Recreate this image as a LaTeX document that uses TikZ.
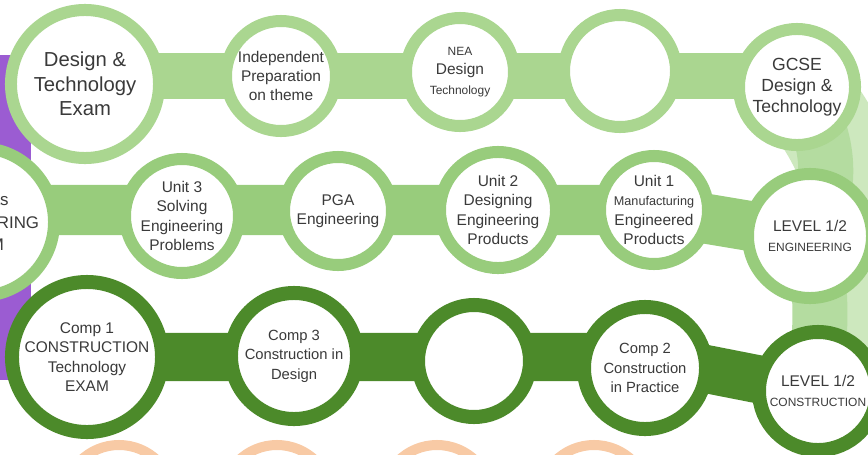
\documentclass[tikz,border=0pt]{standalone}
\usepackage{fontspec}
\setmainfont{Liberation Sans}
\usepackage{xcolor}
\usepackage{tikz}
\usetikzlibrary{backgrounds}

\definecolor{paleGreen}{RGB}{170,214,144}
\definecolor{midGreen}{RGB}{152,204,124}
\definecolor{darkGreen}{RGB}{76,138,42}
\definecolor{bendGreen}{RGB}{180,220,160}
\definecolor{mistGreen}{RGB}{205,232,190}
\definecolor{peach}{RGB}{248,202,165}
\definecolor{sidebar}{RGB}{155,92,210}
\definecolor{inkGray}{RGB}{58,58,58}

\newcommand{\smalltag}[1]{{\fontsize{8.5}{10.5}\selectfont #1}}

\begin{document}
\begin{tikzpicture}[
    x=0.025cm, y=-0.025cm,
    ring/.style={circle, fill=white, inner sep=0pt, align=center, text=inkGray, font=\fontsize{11}{13.8}\selectfont},
    lightring/.style={ring, draw=paleGreen, line width=0.3cm},
    midring/.style={ring, draw=midGreen, line width=0.3cm},
    darkring/.style={ring, draw=darkGreen, line width=0.35cm},
    peachring/.style={ring, draw=peach, line width=0.25cm, minimum size=2.75cm},
    bar/.style={line width=#1, line cap=butt}
]
    \clip (0,0) rectangle (868,454);

    % row 1: design & technology
    \node[lightring, minimum size=3.7cm, font=\fontsize{14.4}{17.5}\selectfont] (dtexam) at (85,84) {Design \&\\Technology\\Exam};
    \node[lightring, minimum size=2.75cm] (prep) at (281,76) {Independent\\Preparation\\on theme};
    \node[lightring, minimum size=2.7cm] (nea) at (460,72) {\smalltag{NEA}\\Design\\\smalltag{Technology}};
    \node[lightring, minimum size=2.8cm] (blankA) at (620,71) {};
    \node[lightring, minimum size=2.9cm, font=\fontsize{12.5}{15}\selectfont] (gcse) at (797,87) {GCSE\\Design \&\\Technology};

    % row 2: engineering
    \node[midring, minimum size=3.7cm, font=\fontsize{12}{16}\selectfont] (engexam) at (-20,222) {Eduqas\\ENGINEERING\\EXAM};
    \node[midring, minimum size=2.85cm] (unit3) at (182,216) {Unit 3\\Solving\\Engineering\\Problems};
    \node[midring, minimum size=2.7cm] (pga) at (338,211) {PGA\\Engineering};
    \node[midring, minimum size=2.9cm] (unit2) at (498,210) {Unit 2\\Designing\\Engineering\\Products};
    \node[midring, minimum size=2.7cm] (unit1) at (654,210) {Unit 1\\{\fontsize{9}{11}\selectfont Manufacturing}\\Engineered\\Products};
    \node[midring, minimum size=3.1cm] (leveleng) at (810,236) {LEVEL 1/2\\\smalltag{ENGINEERING}};

    % row 3: construction
    \node[darkring, minimum size=3.75cm] (comp1) at (87,357) {Comp 1\\CONSTRUCTION\\Technology\\EXAM};
    \node[darkring, minimum size=3.15cm, font=\fontsize{10.5}{13.8}\selectfont] (comp3) at (294,356) {Comp 3\\Construction in\\Design};
    \node[darkring, minimum size=2.8cm] (blankB) at (474,361) {};
    \node[darkring, minimum size=3.05cm, font=\fontsize{10.5}{13.8}\selectfont] (comp2) at (645,368) {Comp 2\\Construction\\in Practice};
    \node[darkring, minimum size=2.95cm] (levelcon) at (818,391) {LEVEL 1/2\\\smalltag{CONSTRUCTION}};

    % row 4
    \node[peachring] (peachA) at (119,500) {};
    \node[peachring] (peachB) at (277,500) {};
    \node[peachring] (peachC) at (437,500) {};
    \node[peachring] (peachD) at (594,500) {};

    \begin{scope}[on background layer]
        \fill[sidebar] (0,55) rectangle (31,380);
        \draw[bar=2.4cm, mistGreen] (gcse.center) .. controls (880,180) and (880,300) .. (levelcon.center);
        \draw[bar=1.375cm, bendGreen] (gcse.center) to[out=-55, in=65] (leveleng.center);
        \draw[bar=1.375cm, bendGreen] (leveleng.center) to[out=-75, in=90] (levelcon.center);
        \draw[bar=1.125cm, paleGreen] (dtexam.center |- prep.center) -- (gcse.center |- prep.center);
        \draw[bar=1.25cm, midGreen] (engexam.center |- unit2.center) -- (unit1.center |- unit2.center) -- (leveleng.center);
        \draw[bar=1.2cm, darkGreen] (comp1.center) -- (comp2.center |- comp1.center) -- (levelcon.center);
    \end{scope}
\end{tikzpicture}
\end{document}
